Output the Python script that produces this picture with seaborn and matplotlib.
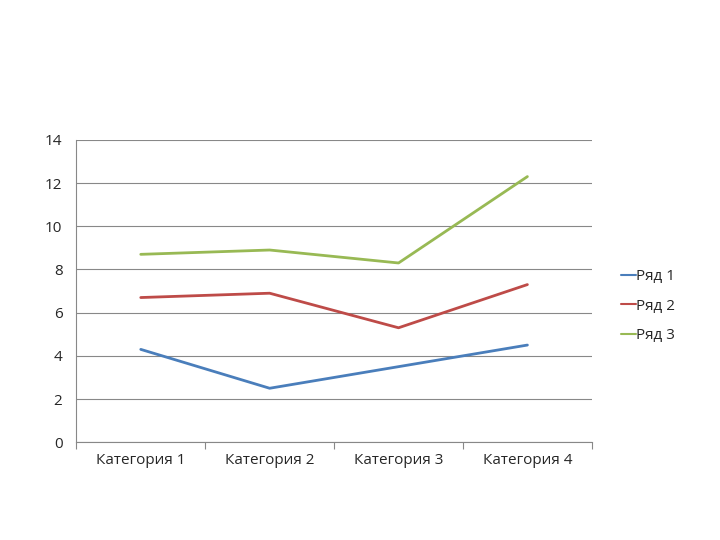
import matplotlib
matplotlib.use("Agg")
import matplotlib.pyplot as plt
import seaborn as sns
import pandas as pd

categories = ["Категория 1", "Категория 2", "Категория 3", "Категория 4"]
series_names = ["Ряд 1", "Ряд 2", "Ряд 3"]
row1 = [4.3, 2.5, 3.5, 4.5]
row2 = [6.7, 6.9, 5.3, 7.3]
row3 = [8.7, 8.9, 8.3, 12.3]
colors = ["#4a7ebb", "#be4b48", "#98b954"]

sns.set_style("white")
plt.rcParams["font.family"] = ["Open Sans", "DejaVu Sans"]

rows = []
for name, vals in zip(series_names, [row1, row2, row3]):
    for i, v in enumerate(vals):
        rows.append({"pos": i + 0.5, "value": v, "series": name})
df = pd.DataFrame(rows)

fig = plt.figure(figsize=(7.2, 5.4), dpi=100)
ax = fig.add_axes([0.106, 0.181, 0.716, 0.56])
sns.lineplot(data=df, x="pos", y="value", hue="series", palette=colors,
             linewidth=2, ax=ax, legend=True)

ax.set_xlim(0, 4)
ax.set_ylim(0, 14)
ax.set_yticks(range(0, 15, 2))
ax.set_xticks([0, 1, 2, 3, 4])
ax.set_xticklabels([])
ax.set_xticks([0.5, 1.5, 2.5, 3.5], minor=True)
ax.set_xticklabels(categories, minor=True)
ax.tick_params(axis="x", which="major", length=5, direction="out", color="#888888", bottom=True)
ax.tick_params(axis="x", which="minor", length=0, labelsize=11, pad=8)
ax.tick_params(axis="y", length=0, labelsize=11, pad=10)
ax.set_xlabel("")
ax.set_ylabel("")
ax.grid(axis="y", color="#888888", linewidth=0.8)
ax.set_axisbelow(True)
for side in ["top", "right"]:
    ax.spines[side].set_visible(False)
for side in ["left", "bottom"]:
    ax.spines[side].set_color("#888888")

h, l = ax.get_legend_handles_labels()
for hh in h:
    hh.set_linewidth(1.5)
ax.legend(h, l, loc="center left", bbox_to_anchor=(1.03, 0.45), frameon=False,
          fontsize=11, handlelength=1.0, handletextpad=0.0, labelspacing=0.95)

fig.savefig("out.png", dpi=100)
